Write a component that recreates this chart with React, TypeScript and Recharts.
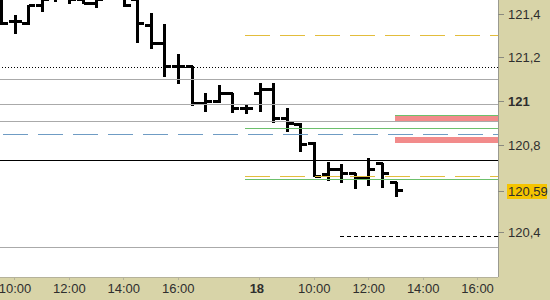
import React from 'react';
import {
  ComposedChart,
  Bar,
  XAxis,
  YAxis,
  ReferenceLine,
  ReferenceArea,
  CartesianGrid,
} from 'recharts';

// ---- bar data (30-minute OHLC) ----
const times = [
  '09:30', '10:00', '10:30', '11:00', '11:30', '12:00', '12:30', '13:00', '13:30', '14:00',
  '14:30', '15:00', '15:30', '16:00', '16:30', '17:00', '17:30', '18:00', '18:30',
  '08:00', '08:30', '09:00', '09:30', '10:00', '10:30', '11:00', '11:30', '12:00', '12:30', '13:00',
];
const opens = [
  121.455, 121.370, 121.359, 121.441, 121.49, 121.48, 121.47, 121.45, 121.48, 121.48,
  121.47, 121.350, 121.268, 121.163, 121.163, 120.994, 121.003, 121.039, 120.971,
  121.039, 121.058, 120.925, 120.898, 120.811, 120.669, 120.692, 120.674, 120.656, 120.720, 120.633,
];
const highs = [
  121.487, 121.395, 121.441, 121.487, 121.52, 121.51, 121.50, 121.49, 121.52, 121.51,
  121.478, 121.405, 121.354, 121.217, 121.163, 121.039, 121.076, 121.039, 120.989,
  121.085, 121.085, 120.971, 120.902, 120.816, 120.724, 120.715, 120.674, 120.743, 120.720, 120.633,
];
const lows = [
  121.350, 121.309, 121.350, 121.409, 121.455, 121.446, 121.446, 121.427, 121.47, 121.432,
  121.268, 121.240, 121.112, 121.080, 120.980, 120.953, 120.994, 120.948, 120.943,
  120.953, 120.902, 120.861, 120.770, 120.656, 120.637, 120.628, 120.601, 120.615, 120.606, 120.564,
];
const closes = [
  121.359, 121.366, 121.441, 121.470, 121.50, 121.47, 121.45, 121.47, 121.50, 121.441,
  121.359, 121.268, 121.163, 121.163, 120.994, 121.003, 121.039, 120.971, 120.971,
  121.058, 120.925, 120.902, 120.806, 120.660, 120.692, 120.674, 120.656, 120.692, 120.674, 120.596,
];

// ---- axes ----
const xTickIndex = [1, 5, 9, 13, 19, 23, 27, 31, 35];
const xTickLabels = ['10:00', '12:00', '14:00', '16:00', '18', '10:00', '12:00', '14:00', '16:00'];
const xBoldLabels = ['18'];
const yTicks = [120.4, 120.8, 121, 121.2, 121.4];
const yBoldTicks = [121];
const lastPrice = 120.59;

// ---- levels ----
const grayLevels = [121.103, 120.989, 120.907, 120.336];
const blackLevels = [120.733];
const dottedLevels = [121.158];
const blueDashedLevels = [120.852];
const yellowDashedLevels = [121.304, 120.656];
const greenLevels = [120.875, 120.642];
const levelsStart = 17.9;
const redBands = [
  [120.907, 120.934],
  [120.811, 120.838],
];
const bandStart = 28.9;
const bandTopGreen = [120.936];
const blackDashedLevels = [120.386];
const blackDashedStart = 24.9;
const xEnd = 36.5;

const rows = times.map((t, i) => ({
  i,
  time: t,
  open: opens[i],
  high: highs[i],
  low: lows[i],
  close: closes[i],
}));

const FONT = 'Liberation Sans, Arial, sans-serif';
const CRISP = 'crispEdges';

const OhlcShape = (props: any) => {
  const { x, y, width, height, payload } = props;
  if (x == null || y == null) return null;
  const top = Math.min(y, y + height);
  const bottom = Math.max(y, y + height);
  const { open, high, low, close } = payload;
  const r = high - low || 1;
  const yOf = (v: number) => top + ((high - v) / r) * (bottom - top);
  const cx = Math.round(x + width / 2) + 0.5;
  const yo = Math.round(yOf(open)) + 0.5;
  const yc = Math.round(yOf(close)) + 0.5;
  return (
    <g shapeRendering={CRISP}>
      <line x1={cx} x2={cx} y1={top} y2={bottom} stroke="#000" strokeWidth={3} />
      <line x1={cx - 6.5} x2={cx} y1={yo} y2={yo} stroke="#000" strokeWidth={3} />
      <line x1={cx} x2={cx + 6.5} y1={yc} y2={yc} stroke="#000" strokeWidth={3} />
    </g>
  );
};

const XTick = (props: any) => {
  const { x, y, payload } = props;
  const idx = xTickIndex.indexOf(payload.value);
  const label = idx >= 0 ? xTickLabels[idx] : '';
  const bold = xBoldLabels.includes(label);
  return (
    <text
      x={bold ? x - 3 : x}
      y={y}
      dy={11}
      textAnchor="middle"
      fontFamily={FONT}
      fontSize={13}
      fontWeight={bold ? 'bold' : 'normal'}
      fill="#2e2e2e"
    >
      {label}
    </text>
  );
};

const YTick = (props: any) => {
  const { x, y, payload } = props;
  const v = payload.value;
  const isLast = Math.abs(v - lastPrice) < 1e-9;
  const bold = yBoldTicks.includes(v);
  const label = String(v).replace('.', ',');
  return (
    <g>
      {isLast && <rect x={x - 1} y={Math.round(y) - 7} width={40} height={15} fill="#f5c400" />}
      <text
        x={x}
        y={y}
        dy={4.5}
        textAnchor="start"
        fontFamily={FONT}
        fontSize={13}
        fontWeight={bold ? 'bold' : 'normal'}
        fill="#2e2e2e"
      >
        {label}
      </text>
    </g>
  );
};

export default function App() {
  return (
    <div
      style={{
        position: 'absolute',
        left: 0,
        top: 0,
        width: 550,
        height: 300,
        background: '#d8d4a8',
      }}
    >
      <ComposedChart
        width={550}
        height={300}
        data={rows}
        margin={{ top: 0, right: 0, bottom: 0, left: 0 }}
        barSize={13}
      >
        <CartesianGrid fill="#ffffff" stroke="none" horizontal={false} vertical={false} />
        <XAxis
          type="number"
          dataKey="i"
          domain={[-0.1, xEnd]}
          allowDataOverflow
          ticks={xTickIndex}
          interval={0}
          height={23}
          tickSize={3}
          tickMargin={2}
          tick={<XTick />}
          axisLine={{ stroke: '#b5b29a', shapeRendering: CRISP }}
          tickLine={{ stroke: '#b5b29a', shapeRendering: CRISP }}
        />
        <YAxis
          orientation="right"
          type="number"
          domain={[120.199, 121.464]}
          allowDataOverflow
          ticks={[...yTicks, lastPrice]}
          interval={0}
          width={52}
          tickSize={6}
          tickMargin={4}
          tick={<YTick />}
          axisLine={{ stroke: '#9a9a90', shapeRendering: CRISP }}
          tickLine={{ stroke: '#8a8a80', shapeRendering: CRISP }}
        />
        {redBands.map((b, k) => (
          <ReferenceArea
            key={'rb' + k}
            x1={bandStart}
            x2={xEnd}
            y1={b[0]}
            y2={b[1]}
            fill="#f28b8b"
            fillOpacity={1}
            stroke="none"
            ifOverflow="hidden"
            shapeRendering={CRISP}
          />
        ))}
        {grayLevels.map((v, k) => (
          <ReferenceLine key={'g' + k} y={v} stroke="#aaaaaa" strokeWidth={1} shapeRendering={CRISP} />
        ))}
        {blackLevels.map((v, k) => (
          <ReferenceLine key={'k' + k} y={v} stroke="#000" strokeWidth={1} shapeRendering={CRISP} />
        ))}
        {dottedLevels.map((v, k) => (
          <ReferenceLine
            key={'d' + k}
            y={v}
            stroke="#000"
            strokeWidth={1}
            strokeDasharray="1 2"
            shapeRendering={CRISP}
          />
        ))}
        {blueDashedLevels.map((v, k) => (
          <ReferenceLine
            key={'b' + k}
            y={v}
            stroke="#6f9cc4"
            strokeWidth={1}
            strokeDasharray="25 10"
            strokeDashoffset={20}
            shapeRendering={CRISP}
          />
        ))}
        {yellowDashedLevels.map((v, k) => (
          <ReferenceLine
            key={'y' + k}
            segment={[
              { x: levelsStart, y: v },
              { x: xEnd, y: v },
            ]}
            stroke="#e3bd3c"
            strokeWidth={1}
            strokeDasharray="25 10"
            shapeRendering={CRISP}
          />
        ))}
        {greenLevels.map((v, k) => (
          <ReferenceLine
            key={'gr' + k}
            segment={[
              { x: levelsStart, y: v },
              { x: xEnd, y: v },
            ]}
            stroke="#6cc06c"
            strokeWidth={1}
            shapeRendering={CRISP}
          />
        ))}
        {bandTopGreen.map((v, k) => (
          <ReferenceLine
            key={'bg' + k}
            segment={[
              { x: bandStart, y: v },
              { x: xEnd, y: v },
            ]}
            stroke="#6cc06c"
            strokeWidth={1}
            shapeRendering={CRISP}
          />
        ))}
        {blackDashedLevels.map((v, k) => (
          <ReferenceLine
            key={'bd' + k}
            segment={[
              { x: blackDashedStart, y: v },
              { x: xEnd, y: v },
            ]}
            stroke="#000"
            strokeWidth={1}
            strokeDasharray="4 3"
            shapeRendering={CRISP}
          />
        ))}
        <Bar
          dataKey={(d: any) => [d.low, d.high]}
          shape={<OhlcShape />}
          isAnimationActive={false}
        />
      </ComposedChart>
    </div>
  );
}
